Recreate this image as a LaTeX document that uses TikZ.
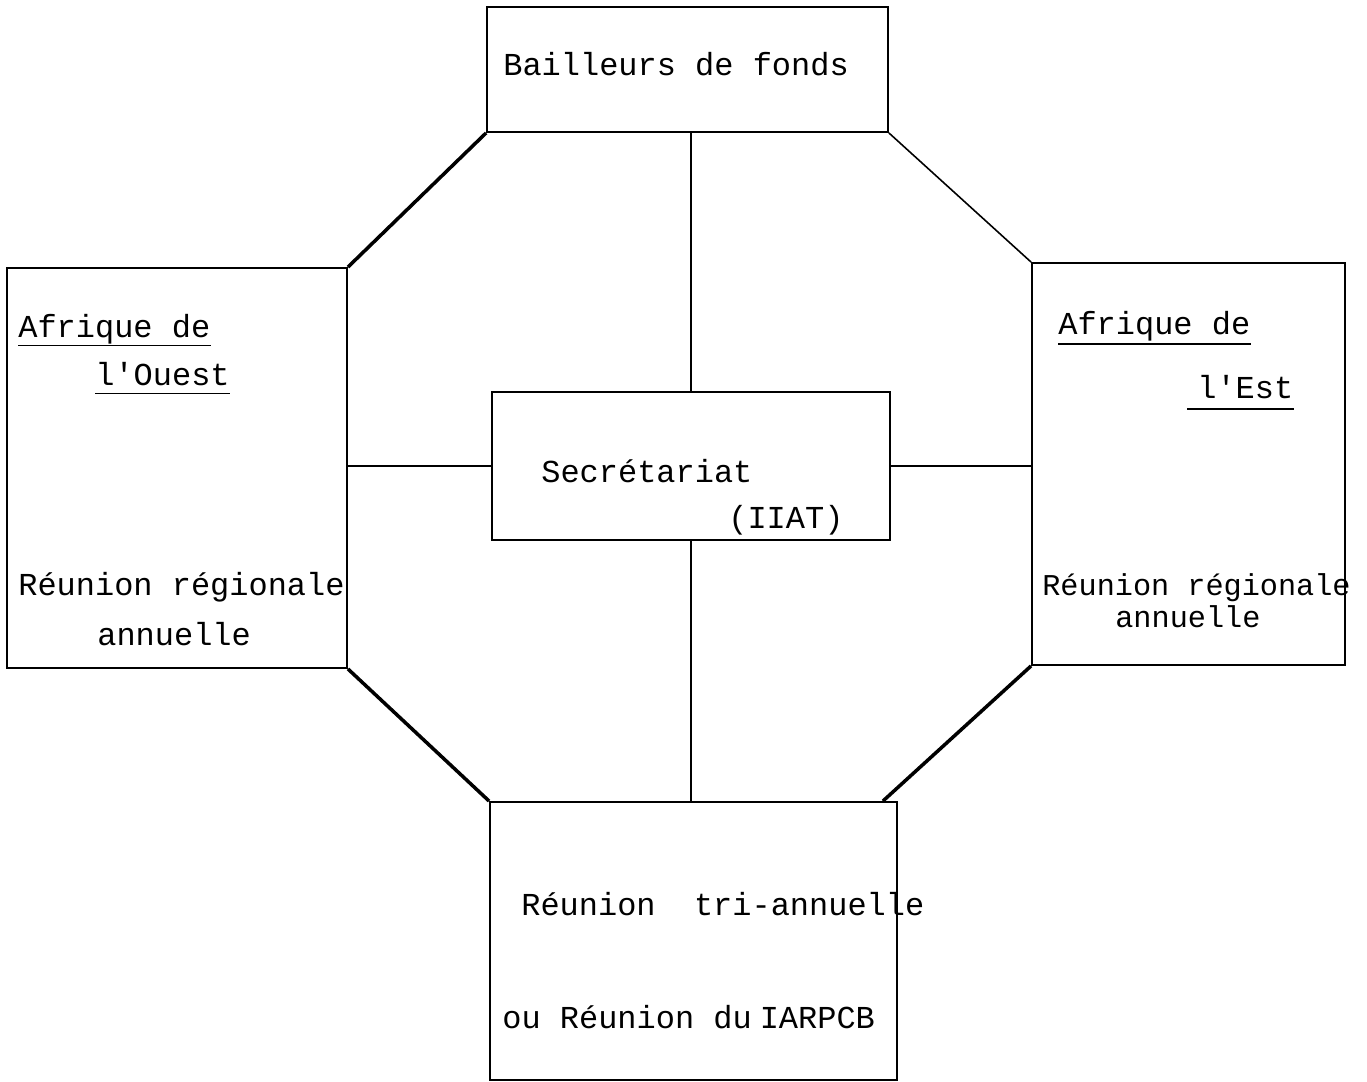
\documentclass[tikz,border=0pt]{standalone}
\usepackage{fontspec}
\setmonofont{Liberation Mono}
\usepackage{tikz}
\usetikzlibrary{positioning}
\tikzstyle{box}=[draw,line width=1.1pt,rectangle,inner sep=0pt]
\tikzstyle{txt}=[font=\ttfamily\fontsize{18.2}{20}\selectfont,anchor=base west,inner sep=0pt]
\tikzstyle{smalltxt}=[txt,font=\ttfamily\fontsize{17.2}{19}\selectfont]
\tikzstyle{uline}=[line width=1.1pt]
\tikzstyle{link}=[line width=0.9pt]
\tikzstyle{rim}=[line width=2pt]

\begin{document}
\begin{tikzpicture}[x=0.02cm,y=-0.02cm]
\useasboundingbox (0,0) rectangle (1367,1082);
% the five boxes
\draw (687.5, 69.5) node [box, minimum width=8.02cm, minimum height=2.5cm] (bailleurs) {};
\draw (177, 468) node [box, minimum width=6.8cm, minimum height=8cm] (ouest) {};
\draw (1188.5, 464) node [box, minimum width=6.26cm, minimum height=8.04cm] (est) {};
\draw (691, 466) node [box, minimum width=7.96cm, minimum height=2.96cm] (secretariat) {};
\draw (693.5, 941) node [box, minimum width=8.14cm, minimum height=5.56cm] (reunion) {};
% texts
\draw (503, 75) node [txt] (tbailleurs) {Bailleurs de fonds};
\draw (18, 337) node [txt] (touestA) {Afrique de};
\draw (95, 385) node [txt] (touestB) {l'Ouest};
\draw (18, 595) node [txt] (touestC) {Réunion régionale};
\draw (97, 645) node [txt] (touestD) {annuelle};
\draw (1058, 334) node [txt] (testA) {Afrique de};
\draw (1197, 398) node [txt] (testB) {l'Est};
\draw (1042, 595) node [smalltxt] (testC) {Réunion régionale};
\draw (1115, 627) node [smalltxt] (testD) {annuelle};
\draw (541, 482) node [txt] (tsecretariat) {Secrétariat};
\draw (728, 528) node [txt] (tiiat) {(IIAT)};
\draw (521, 915) node [txt] (treunionA) {Réunion\ \ tri-annuelle};
\draw (502, 1028) node [txt] (treunionB) {ou Réunion du\kern-0.35em{} IARPCB};
% underlines
\draw[uline] ([yshift=-0.17cm]touestA.base west) -- ([yshift=-0.17cm]touestA.base east);
\draw[uline] ([yshift=-0.17cm]touestB.base west) -- ([yshift=-0.17cm]touestB.base east);
\draw[uline] ([yshift=-0.2cm]testA.base west) -- ([yshift=-0.2cm]testA.base east);
\draw[uline] ([yshift=-0.22cm,xshift=-0.2cm]testB.base west) -- ([yshift=-0.22cm]testB.base east);
% links to the secretariat
\draw[link] (bailleurs.south -| secretariat.north) -- (secretariat.north);
\draw[link] (secretariat.south) -- (secretariat.south |- reunion.north);
\draw[link] (ouest.east |- secretariat.west) -- (secretariat.west);
\draw[link] (secretariat.east) -- (est.west |- secretariat.east);
% octagon rim
\draw[rim] (bailleurs.south west) -- (ouest.north east);
\draw[link] (bailleurs.south east) -- (est.north west);
\draw[rim] (ouest.south east) -- (reunion.north west);
\draw[rim] (est.south west) -- ([xshift=-0.3cm]reunion.north east);
\end{tikzpicture}
\end{document}
